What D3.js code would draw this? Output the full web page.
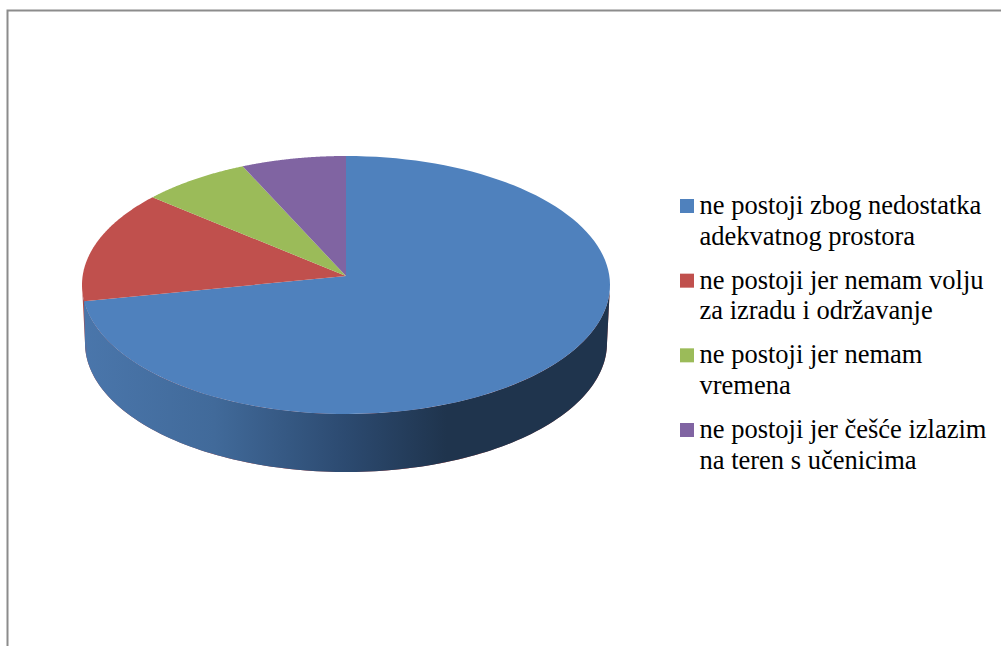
<!DOCTYPE html>
<html><head><meta charset="utf-8">
<script src="https://cdn.jsdelivr.net/npm/d3@7/dist/d3.min.js"></script>
<style>html,body{margin:0;padding:0;background:#fff}svg{display:block}</style>
</head><body><svg id="c" width="1001" height="646"></svg>
<script>
const categories = [
  ["ne postoji zbog nedostatka","adekvatnog prostora"],
  ["ne postoji jer nemam volju","za izradu i održavanje"],
  ["ne postoji jer nemam","vremena"],
  ["ne postoji jer češće izlazim","na teren s učenicima"]
];
const values = [73,13.9,6.7,6.4];
const colors = ["#4f81bd","#c0504d","#9bbb59","#8064a2"];
const wallStops = [[0,"#4a76ab"],[0.25,"#416a9a"],[0.5,"#2c4a70"],[0.69,"#1f344d"],[1,"#1f344d"]];
const redWall = "#b04a47";

const W=1001,H=646;
const cx=346,cy=285,rx=264,ry=129,apexY=276,depth=58,bottomRx=261;
const svg=d3.select("#c");
const pie=d3.pie().value(d=>d).sort(null);
const arcs=pie(values);
const line=d3.line().x(d=>d[0]).y(d=>d[1]);
const arcPts=(a0,a1,r=rx,dy=0)=>d3.range(0,121).map(i=>{const a=a0+(a1-a0)*i/120;return [cx+r*Math.sin(a),cy-ry*Math.cos(a)+dy];});

const defs=svg.append("defs");
const g=defs.append("linearGradient").attr("id","wall").attr("gradientUnits","userSpaceOnUse")
  .attr("x1",cx-rx).attr("x2",cx+rx).attr("y1",0).attr("y2",0);
wallStops.forEach(s=>g.append("stop").attr("offset",s[0]).attr("stop-color",s[1]));

// frame
svg.append("path").attr("d",line([[7.5,H],[7.5,10.5],[W,10.5]])).attr("fill","none").attr("stroke","#8c8c8c").attr("stroke-width",2);

// side walls: the visible lower half of the disc
const wallPath=(a0,a1)=>line(arcPts(a0,a1).concat(arcPts(a0,a1,bottomRx,depth).reverse()))+"Z";
const blue=arcs[0], red=arcs[1];
svg.append("path").attr("d",wallPath(Math.PI/2,Math.PI*3/2)).attr("fill",redWall);
svg.append("path").attr("d",wallPath(Math.PI/2,blue.endAngle)).attr("fill","url(#wall)");
// the blue wall also covers the bottom rim up to the widest point on the left
svg.append("path").attr("d",line(arcPts(blue.endAngle,Math.PI*3/2,rx-1.5).concat(arcPts(blue.endAngle,Math.PI*3/2,bottomRx,depth).reverse()))+"Z").attr("fill","url(#wall)");

// top slices
svg.selectAll("path.slice").data(arcs).join("path").attr("class","slice")
  .attr("fill",(d,i)=>colors[i])
  .attr("d",d=>line([[cx,apexY]].concat(arcPts(d.startAngle,d.endAngle)))+"Z");

// legend
const lg=svg.append("g").attr("font-family","'Liberation Serif'").attr("font-size",26.5).attr("fill","#000");
const legY=d3.scalePoint().domain(d3.range(4)).range([214,438]);
categories.forEach((c,i)=>{
  lg.append("rect").attr("x",680).attr("y",legY(i)-15).attr("width",14).attr("height",14).attr("fill",colors[i]);
  c.forEach((t,j)=>lg.append("text").attr("x",699.5).attr("y",legY(i)+j*30.5).text(t));
});
</script></body></html>
